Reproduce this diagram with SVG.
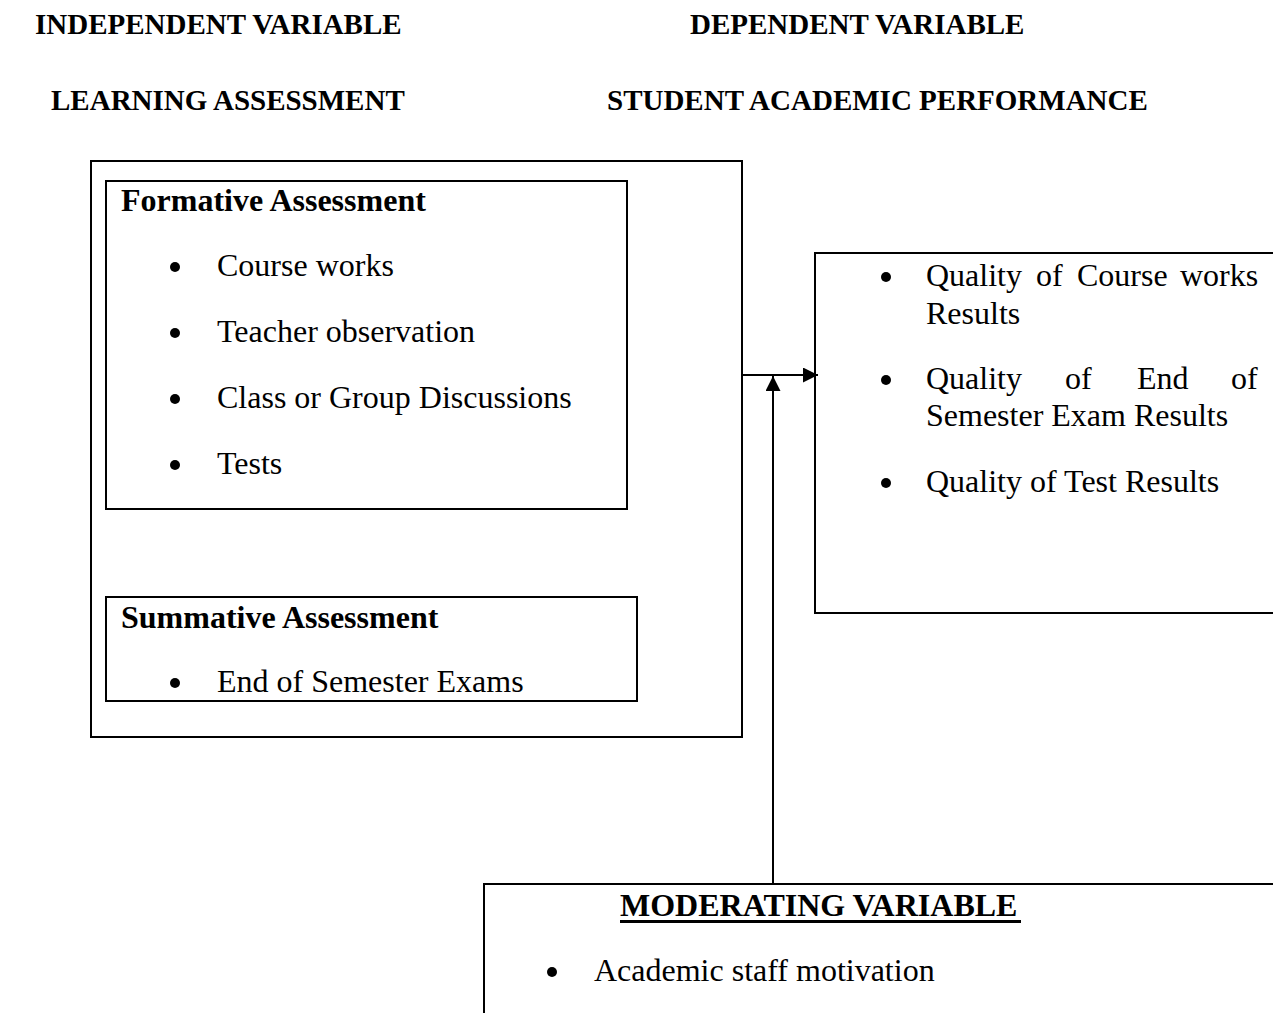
<svg xmlns="http://www.w3.org/2000/svg" width="1273" height="1013" viewBox="0 0 1273 1013">
<defs>
<style>
.box{fill:none;stroke:#000;stroke-width:2}
.h{font-family:"Liberation Serif","Times New Roman",serif;font-weight:bold;font-size:29px;fill:#000}
.t{font-family:"Liberation Serif","Times New Roman",serif;font-size:32px;fill:#000}
.tb{font-family:"Liberation Serif","Times New Roman",serif;font-size:32px;font-weight:bold;fill:#000}
.c{stroke:#000;stroke-width:2;fill:none}
</style>
<marker id="ah" viewBox="0 0 15 15" refX="15" refY="7.5" markerWidth="15" markerHeight="15" markerUnits="userSpaceOnUse" orient="auto"><path d="M0,0 L15,7.5 L0,15 Z" fill="#000"/></marker>
</defs>
<rect width="1273" height="1013" fill="#fff"/>
<g id="headings">
<text class="h" x="35" y="34">INDEPENDENT VARIABLE</text>
<text class="h" x="690" y="34">DEPENDENT VARIABLE</text>
<text class="h" x="51" y="110">LEARNING ASSESSMENT</text>
<text class="h" x="607" y="110">STUDENT ACADEMIC PERFORMANCE</text>
</g>
<g id="independent">
<rect class="box" x="91" y="161" width="651" height="576"/>
</g>
<g id="formative">
<rect class="box" x="106" y="181" width="521" height="328"/>
<text class="tb" x="121" y="211">Formative Assessment</text>
<circle cx="175" cy="267" r="5"/><text class="t" x="217" y="276">Course works</text>
<circle cx="175" cy="333" r="5"/><text class="t" x="217" y="342">Teacher observation</text>
<circle cx="175" cy="399" r="5"/><text class="t" x="217" y="408">Class or Group Discussions</text>
<circle cx="175" cy="465" r="5"/><text class="t" x="217" y="474">Tests</text>
</g>
<g id="summative">
<rect class="box" x="106" y="597" width="531" height="104"/>
<text class="tb" x="121" y="628">Summative Assessment</text>
<circle cx="175" cy="683" r="5"/><text class="t" x="217" y="692">End of Semester Exams</text>
</g>
<g id="dependent">
<rect class="box" x="815" y="253" width="470" height="360"/>
<circle cx="886" cy="277" r="5"/>
<text class="t" y="286"><tspan x="926">Quality</tspan><tspan x="1036">of</tspan><tspan x="1077">Course</tspan><tspan x="1180">works</tspan></text>
<text class="t" x="926" y="324">Results</text>
<circle cx="886" cy="380" r="5"/>
<text class="t" y="389"><tspan x="926">Quality</tspan><tspan x="1065">of</tspan><tspan x="1137">End</tspan><tspan x="1231">of</tspan></text>
<text class="t" x="926" y="426">Semester Exam Results</text>
<circle cx="886" cy="483" r="5"/><text class="t" x="926" y="492">Quality of Test Results</text>
</g>
<g id="moderating">
<rect class="box" x="484" y="884" width="800" height="140"/>
<text class="tb" x="620" y="916">MODERATING VARIABLE</text>
<rect x="620" y="920" width="401" height="3" fill="#000"/>
<circle cx="552" cy="972" r="5"/><text class="t" x="594" y="981">Academic staff motivation</text>
</g>
<g id="connectors">
<line class="c" x1="742" y1="375" x2="818" y2="375" marker-end="url(#ah)"/>
<line class="c" x1="773" y1="884" x2="773" y2="376" marker-end="url(#ah)"/>
</g>
</svg>
